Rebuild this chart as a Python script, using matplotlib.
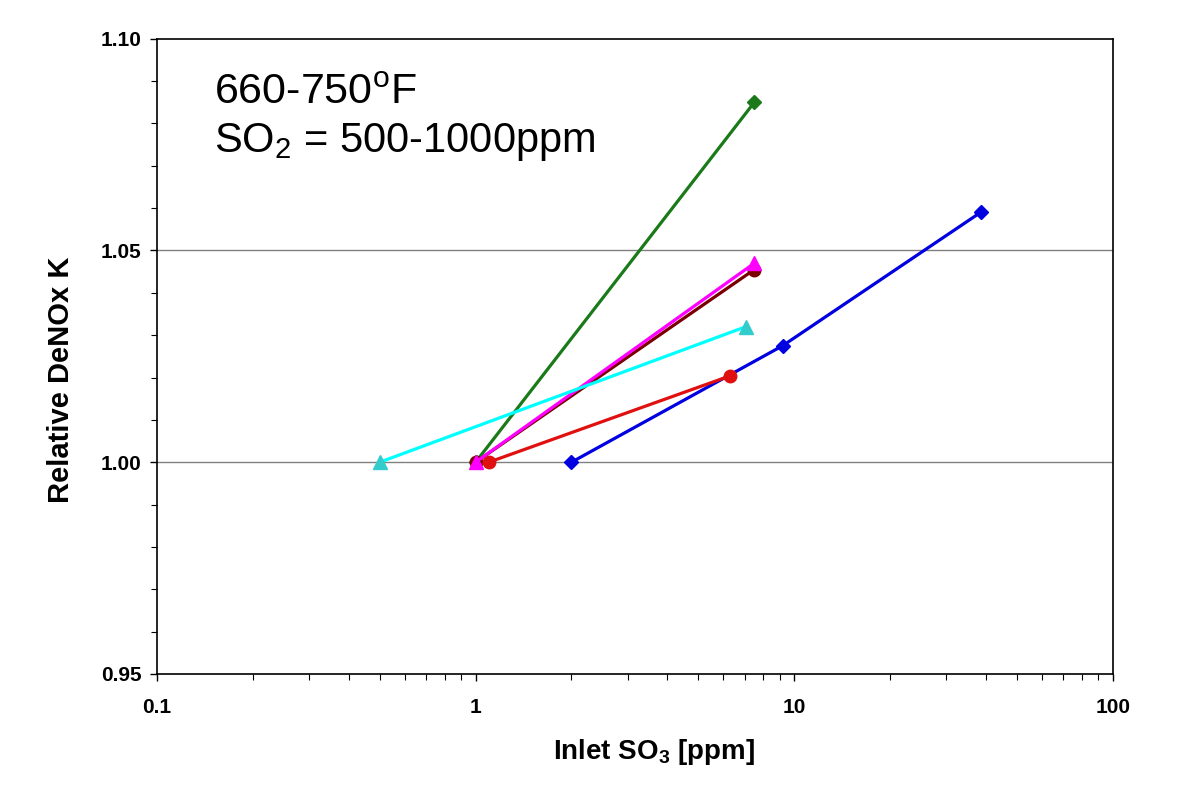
import numpy as np
import matplotlib
matplotlib.use("Agg")
import matplotlib.pyplot as plt
from matplotlib.ticker import LogLocator, MultipleLocator, NullFormatter

plt.rcParams['font.family'] = ['Liberation Sans', 'DejaVu Sans']
plt.rcParams['mathtext.fontset'] = 'custom'
plt.rcParams['mathtext.rm'] = 'Liberation Sans'
plt.rcParams['mathtext.bf'] = 'Liberation Sans:bold'

# series (inlet SO3 ppm, relative DeNOx K)
cyan_x = [0.5, 7.05]
cyan_y = [1.000, 1.032]
green_x = [1.0, 7.5]
green_y = [1.000, 1.085]
magenta_x = [1.0, 7.5]
magenta_y = [1.000, 1.047]
brown_x = [1.0, 7.5]
brown_y = [1.000, 1.0455]
red_x = [1.1, 6.3]
red_y = [1.000, 1.0204]
blue_x = [2.0, 9.2, 38.5]
blue_y = [1.000, 1.0275, 1.059]

y_ticks = [0.95, 1.00, 1.05, 1.10]
x_ticks = [0.1, 1, 10, 100]
x_tick_labels = ['0.1', '1', '10', '100']

fig = plt.figure(figsize=(11.99, 7.91), dpi=100)
ax = fig.add_axes([0.131, 0.148, 0.797, 0.803])

ax.plot(green_x, green_y, color='#1a7a1a', lw=2.3, marker='D', ms=7, zorder=3)
ax.plot(blue_x, blue_y, color='#0000e0', lw=2.3, marker='D', ms=7, zorder=3)
ax.plot(brown_x, brown_y, color='#7a0000', lw=2.3, marker='o', ms=9, zorder=3)
ax.plot(red_x, red_y, color='#e01010', lw=2.3, marker='o', ms=9, zorder=3)
ax.plot(magenta_x, magenta_y, color='#ff00ff', lw=2.3, marker='^', ms=10, zorder=4)
ax.plot(cyan_x, cyan_y, color='#00ffff', lw=2.3, marker='^', ms=10,
        mfc='#33cccc', mec='#33cccc', zorder=4)

ax.set_xscale('log')
ax.set_xlim(0.1, 100)
ax.set_ylim(0.95, 1.10)

ax.xaxis.set_minor_locator(LogLocator(base=10, subs=np.arange(2, 10), numticks=20))
ax.xaxis.set_minor_formatter(NullFormatter())
ax.set_xticks(x_ticks)
ax.set_xticklabels(x_tick_labels)
ax.set_yticks(y_ticks)
ax.set_yticklabels(['%.2f' % v for v in y_ticks])
ax.yaxis.set_minor_locator(MultipleLocator(0.01))

ax.tick_params(axis='both', which='major', direction='out', length=5, width=1,
               labelsize=15)
ax.tick_params(axis='x', which='major', pad=12)
ax.tick_params(axis='y', which='major', pad=6)
ax.tick_params(axis='both', which='minor', direction='out', length=4, width=0.8)
for lab in ax.get_xticklabels() + ax.get_yticklabels():
    lab.set_fontweight('bold')

for v in [1.00, 1.05]:
    ax.axhline(v, color='#808080', lw=1, zorder=1)

for s in ax.spines.values():
    s.set_linewidth(1.2)

ax.set_xlabel(r'Inlet SO$_\mathbf{3}$ [ppm]', fontsize=20, fontweight='bold')
ax.set_ylabel('Relative DeNOx K', fontsize=21, fontweight='bold')
ax.xaxis.set_label_coords(0.52, -0.099)
ax.yaxis.set_label_coords(-0.086, 0.463)

ax.text(0.06, 0.915, r'660-750$^\mathrm{o}$F', transform=ax.transAxes,
        fontsize=31, va='center', ha='left')
ax.text(0.06, 0.838, r'SO$_\mathrm{2}$ = 500-1000ppm', transform=ax.transAxes,
        fontsize=30, va='center', ha='left')

fig.savefig('out.png', dpi=100)
